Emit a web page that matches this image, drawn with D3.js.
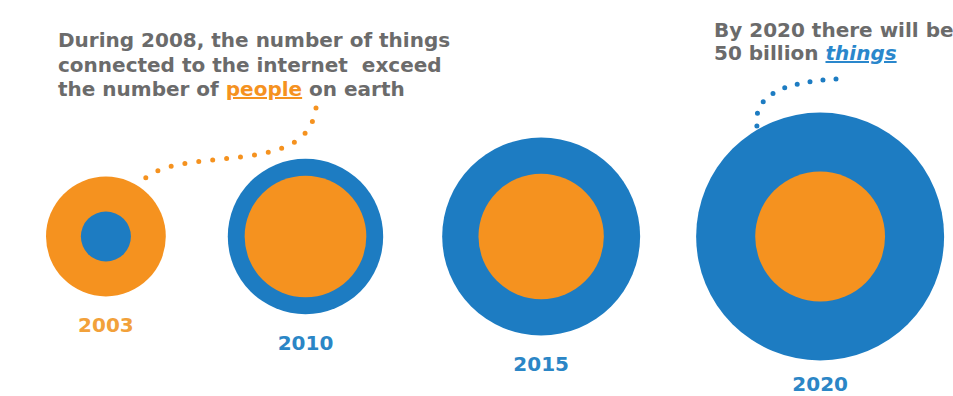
<!DOCTYPE html>
<html>
<head>
<meta charset="utf-8">
<script src="https://cdn.jsdelivr.net/npm/d3@7"></script>
<style>
  body { margin: 0; background: #fff; }
  text { font-family: "DejaVu Sans", sans-serif; font-weight: bold; white-space: pre; }
</style>
</head>
<body>
<div id="chart"></div>
<script>
var width = 953,
    height = 396

// billions
var years = ["2003", "2010", "2015", "2020"]
var people = [6.3, 6.5, 6.9, 7.4]
var things = [1.1, 10.6, 17.2, 27]

var noteLeft = [
  [{ t: "During 2008, the number of things" }],
  [{ t: "connected to the internet  exceed" }],
  [{ t: "the number of " }, { t: "people", c: "orange" }, { t: " on earth" }]
]
var noteRight = [
  [{ t: "By 2020 there will be" }],
  [{ t: "50 billion " }, { t: "things", c: "blue" }]
]

var orange = "#f5921f",
    blue = "#1d7cc2",
    grey = "#6b6b6b"

var svg = d3.select("#chart").append("svg")
    .attr("width", width)
    .attr("height", height)

var rScale = d3.scaleSqrt().domain([0, d3.max(things)]).range([0, 124])

// lay circles out left to right, gap shrinking a little as they grow
var datapoints = years.map(function(y, i) {
  return { year: y, people: people[i], things: things[i] }
})
var cy = 236.5, gap = 62, edge = 46
datapoints.forEach(function(d) {
  d.R = rScale(Math.max(d.people, d.things))
  d.cx = edge + d.R
  edge = d.cx + d.R + gap
  gap -= 3
})

var groups = svg.selectAll("g.year")
  .data(datapoints)
  .enter().append("g")
  .attr("class", "year")
  .attr("transform", function(d) { return "translate(" + d.cx + "," + cy + ")" })

groups.each(function(d) {
  var g = d3.select(this)
  var rings = [
    { r: rScale(d.things), fill: blue },
    { r: rScale(d.people), fill: orange }
  ].sort(function(a, b) { return b.r - a.r })
  g.selectAll("circle")
    .data(rings)
    .enter().append("circle")
    .attr("r", function(c) { return c.r })
    .attr("fill", function(c) { return c.fill })
})

// year labels under each pair, kept inside the frame
groups.append("text")
  .attr("y", function(d) { return Math.min(d.R + 36, height - 5 - cy) })
  .attr("text-anchor", "middle")
  .attr("font-size", 20)
  .attr("fill", function(d) { return d.things > d.people ? "#2b86c6" : "#f2a13a" })
  .text(function(d) { return d.year })

function note(lines, x, y, lineHeight) {
  var t = svg.append("text")
    .attr("font-size", 20)
    .attr("fill", grey)
  lines.forEach(function(parts, i) {
    parts.forEach(function(p, j) {
      var s = t.append("tspan").text(p.t)
      if (j === 0) s.attr("x", x).attr("y", y + i * lineHeight)
      if (p.c === "orange") s.attr("fill", orange).attr("text-decoration", "underline")
      if (p.c === "blue") s.attr("fill", "#2a87cc").attr("font-style", "italic").attr("text-decoration", "underline")
    })
  })
}
note(noteLeft, 58, 47, 24.5)
note(noteRight, 714, 37, 23)

// dotted connectors
svg.append("path")
  .attr("d", "M316,108 C312,135 295,148 255,155 C210,162 165,160 143,180")
  .attr("fill", "none")
  .attr("stroke", orange)
  .attr("stroke-width", 5)
  .attr("stroke-linecap", "round")
  .attr("stroke-dasharray", "0,14")

svg.append("path")
  .attr("d", "M836,79 C790,82 752,92 757,127")
  .attr("fill", "none")
  .attr("stroke", blue)
  .attr("stroke-width", 5)
  .attr("stroke-linecap", "round")
  .attr("stroke-dasharray", "0,13")
</script>
</body>
</html>
